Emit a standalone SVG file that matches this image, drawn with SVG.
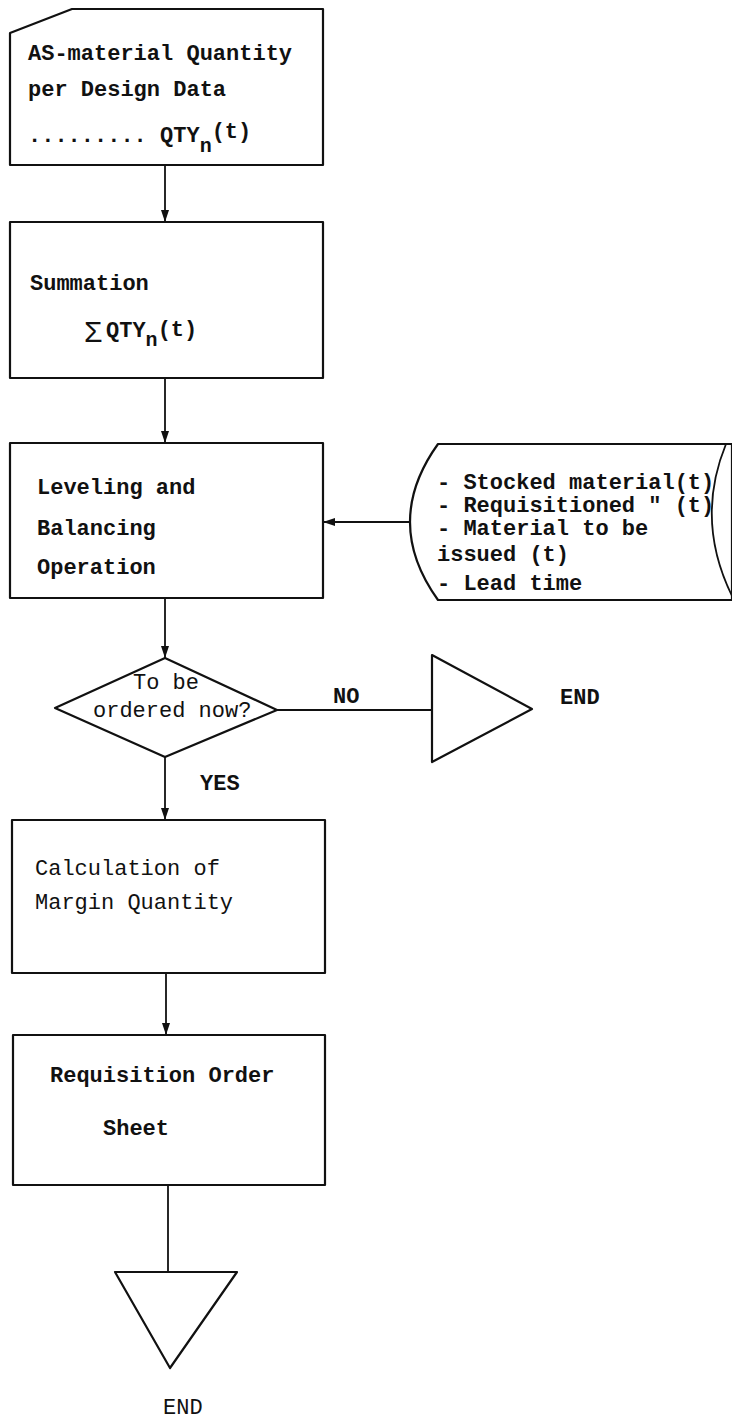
<svg xmlns="http://www.w3.org/2000/svg" width="732" height="1421" viewBox="0 0 732 1421">
  <defs>
    <marker id="arrow" viewBox="0 0 12 8" refX="12" refY="4" markerWidth="12" markerHeight="8" markerUnits="userSpaceOnUse" orient="auto">
      <path d="M0,0 L12,4 L0,8 Z" fill="#111"/>
    </marker>
    <style>
      .shape { fill: #fff; stroke: #111; stroke-width: 2.2; stroke-linejoin: round; }
      .line { fill: none; stroke: #111; stroke-width: 1.8; }
      text { font-family: "Liberation Mono", "DejaVu Sans Mono", monospace; font-size: 22px; fill: #111; }
      .b { font-weight: bold; }
      .sub { font-size: 20px; }
    </style>
  </defs>
  <rect width="732" height="1421" fill="#fff"/>

  <!-- connectors -->
  <g id="connectors">
    <line class="line" x1="165" y1="165" x2="165" y2="222" marker-end="url(#arrow)"/>
    <line class="line" x1="165" y1="378" x2="165" y2="443" marker-end="url(#arrow)"/>
    <line class="line" x1="165" y1="598" x2="165" y2="658" marker-end="url(#arrow)"/>
    <line class="line" x1="410" y1="522" x2="323" y2="522" marker-end="url(#arrow)"/>
    <line class="line" x1="277" y1="710" x2="432" y2="710"/>
    <line class="line" x1="165" y1="757" x2="165" y2="820" marker-end="url(#arrow)"/>
    <line class="line" x1="166" y1="973" x2="166" y2="1035" marker-end="url(#arrow)"/>
    <line class="line" x1="168" y1="1185" x2="168" y2="1272"/>
  </g>

  <!-- input card -->
  <g id="design-data">
    <path class="shape" d="M10,33 L72,9 L323,9 L323,165 L10,165 Z"/>
    <text class="b" x="28" y="60">AS-material Quantity</text>
    <text class="b" x="28" y="96">per Design Data</text>
    <text class="b" x="28" y="142">......... QTY<tspan class="sub" dy="10">n</tspan><tspan dy="-14">(t)</tspan></text>
  </g>

  <!-- summation -->
  <g id="summation">
    <rect class="shape" x="10" y="222" width="313" height="156"/>
    <text class="b" x="30" y="290">Summation</text>
    <text x="84" y="342" style="font-size:30px">Σ</text>
    <text class="b" x="106" y="337">QTY<tspan class="sub" dy="9">n</tspan><tspan dy="-10">(t)</tspan></text>
  </g>

  <!-- leveling and balancing -->
  <g id="leveling">
    <rect class="shape" x="10" y="443" width="313" height="155"/>
    <text class="b" x="37" y="494">Leveling and</text>
    <text class="b" x="37" y="535">Balancing</text>
    <text class="b" x="37" y="574">Operation</text>
  </g>

  <!-- stored data -->
  <g id="stored-data">
    <path class="shape" d="M438,444 L732,444 L732,600 L438,600 Q382,522 438,444 Z"/>
    <path class="line" d="M726,444 Q694,522 734,600" stroke-width="2"/>
    <text class="b" x="437" y="489">- Stocked material(t)</text>
    <text class="b" x="437" y="512">- Requisitioned " (t)</text>
    <text class="b" x="437" y="535">- Material to be</text>
    <text class="b" x="437" y="561">  issued (t)</text>
    <text class="b" x="437" y="590">- Lead time</text>
  </g>

  <!-- decision -->
  <g id="decision">
    <path class="shape" d="M165,658 L277,710 L165,757 L55,708 Z"/>
    <text x="133" y="689">To be</text>
    <text x="93" y="717">ordered now?</text>
    <text class="b" x="200" y="790">YES</text>
    <text class="b" x="333" y="703">NO</text>
  </g>

  <!-- end (no order) -->
  <g id="end-right">
    <path class="shape" d="M432,655 L532,709 L432,762 Z"/>
    <text class="b" x="560" y="704">END</text>
  </g>

  <!-- margin calculation -->
  <g id="margin">
    <rect class="shape" x="12" y="820" width="313" height="153"/>
    <text x="35" y="875">Calculation of</text>
    <text x="35" y="909">Margin Quantity</text>
  </g>

  <!-- requisition order sheet -->
  <g id="requisition">
    <rect class="shape" x="13" y="1035" width="312" height="150"/>
    <text class="b" x="50" y="1082">Requisition Order</text>
    <text class="b" x="103" y="1135">Sheet</text>
  </g>

  <!-- end -->
  <g id="end-bottom">
    <path class="shape" d="M115,1272 L237,1272 L170,1368 Z"/>
    <text x="163" y="1414">END</text>
  </g>
</svg>
